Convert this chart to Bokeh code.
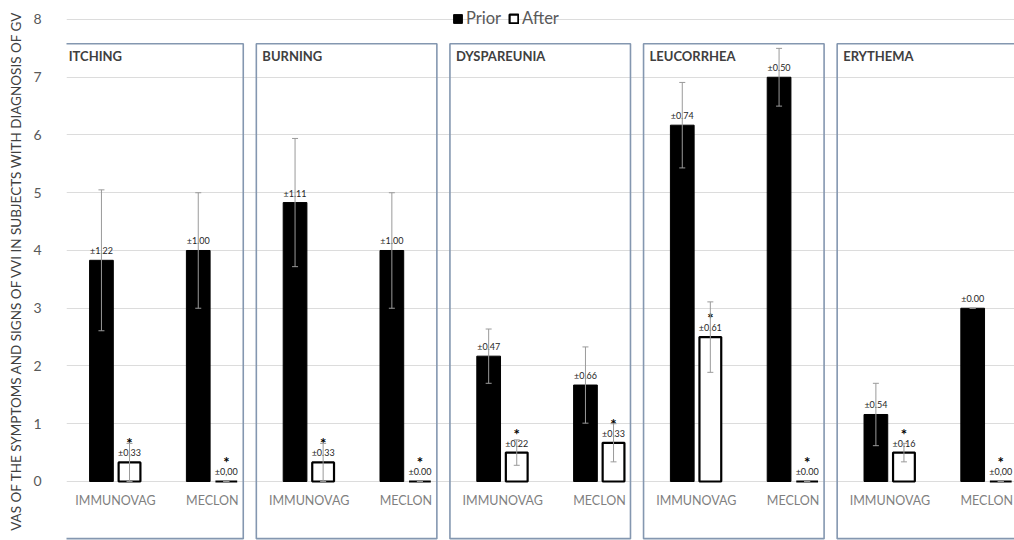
from bokeh.plotting import figure
from bokeh.models import (ColumnDataSource, Range1d, FixedTicker, Whisker, TeeHead,
                          Legend, LegendItem)
from bokeh.core.properties import value
from bokeh.embed import file_html
from bokeh.resources import INLINE

# ---------------- data ----------------
symptoms = ["ITCHING", "BURNING", "DYSPAREUNIA", "LEUCORRHEA", "ERYTHEMA"]
treatments = ["IMMUNOVAG", "MECLON"]

prior_mean = [3.83, 4.00, 4.83, 4.00, 2.17, 1.67, 6.17, 7.00, 1.16, 3.00]
prior_sd = [1.22, 1.00, 1.11, 1.00, 0.47, 0.66, 0.74, 0.50, 0.54, 0.00]
after_mean = [0.33, 0.00, 0.33, 0.00, 0.50, 0.67, 2.50, 0.00, 0.50, 0.00]
after_sd = [0.33, 0.00, 0.33, 0.00, 0.22, 0.33, 0.61, 0.00, 0.16, 0.00]
prior_labels = ["±1.22", "±1.00", "±1.11", "±1.00", "±0.47", "±0.66", "±0.74", "±0.50", "±0.54", "±0.00"]
after_labels = ["±0,33", "±0,00", "±0.33", "±0.00", "±0.22", "±0.33", "±0.61", "±0.00", "±0.16", "±0,00"]
y_ticks = [0, 1, 2, 3, 4, 5, 6, 7, 8]
y_title = "VAS OF THE SYMPTOMS AND SIGNS OF VVI IN SUBJECTS WITH DIAGNOSIS OF GV"

FONT = "Lato"
n = len(symptoms) * len(treatments)
idx = list(range(n))
cat_labels = [treatments[i % 2] for i in idx]

OFF = 0.145
BW = 0.245

src = ColumnDataSource(dict(
    xp=[i - OFF for i in idx], xa=[i + OFF for i in idx],
    pm=prior_mean, ps=prior_sd, am=after_mean, asd=after_sd,
    p_lo=[m - s for m, s in zip(prior_mean, prior_sd)],
    p_hi=[m + s for m, s in zip(prior_mean, prior_sd)],
    a_lo=[m - s for m, s in zip(after_mean, after_sd)],
    a_hi=[m + s for m, s in zip(after_mean, after_sd)],
    pl=prior_labels, al=after_labels, star=["*"] * n,
    xc=idx, yc=[-0.33] * n, cl=cat_labels,
))

p = figure(width=1014, height=540, output_backend="svg", toolbar_location=None,
           x_range=Range1d(-0.506, 9.287), y_range=Range1d(-1.022, 8.329),
           x_axis_location=None, min_border_left=66, min_border_right=0,
           min_border_top=0, min_border_bottom=0)
p.outline_line_color = None
p.xgrid.grid_line_color = None
p.ygrid.grid_line_color = "#dcdcdc"
p.ygrid.grid_line_width = 1
p.yaxis.ticker = FixedTicker(ticks=y_ticks)
p.yaxis.axis_line_color = None
p.yaxis.major_tick_line_color = None
p.yaxis.minor_tick_line_color = None
p.yaxis.major_label_text_font = FONT
p.yaxis.major_label_text_font_size = "14px"
p.yaxis.major_label_text_color = "#595959"
p.yaxis.major_label_standoff = 19
p.yaxis.axis_label = y_title
p.yaxis.axis_label_text_font = FONT
p.yaxis.axis_label_text_font_size = "13.5px"
p.yaxis.axis_label_text_font_style = "normal"
p.yaxis.axis_label_text_color = "#404040"
p.yaxis.axis_label_standoff = 6

# panel boxes
box_left = [2 * k - 0.545 for k in range(len(symptoms))]
box_right = [2 * k + 1.32 for k in range(len(symptoms))]
p.quad(left=box_left, right=box_right, top=[7.58] * len(symptoms),
       bottom=[-0.99] * len(symptoms), fill_alpha=0, line_color="#8497b0",
       line_width=1.6)
p.text(x=box_left, y=[7.36] * len(symptoms), text=symptoms, x_offset=6,
       text_font=value(FONT), text_font_size="13px", text_font_style="bold",
       text_color="#404040", text_baseline="middle", text_align="left")

# bars
r_prior = p.vbar(x="xp", top="pm", bottom=0, width=BW, source=src,
                 fill_color="black", line_color="black", line_width=1)
r_after = p.vbar(x="xa", top="am", bottom=0, width=BW - 0.02, source=src,
                 fill_color="white", line_color="black", line_width=2.2)

for base, lo, hi in (("xp", "p_lo", "p_hi"), ("xa", "a_lo", "a_hi")):
    w = Whisker(base=base, lower=lo, upper=hi, source=src, dimension="height",
                line_color="#9a9a9a", line_width=1, level="annotation",
                upper_head=TeeHead(size=6, line_color="#9a9a9a", line_width=1),
                lower_head=TeeHead(size=6, line_color="#9a9a9a", line_width=1))
    p.add_layout(w)

# data labels
p.text(x="xp", y="pm", text="pl", source=src, y_offset=-4,
       text_font=value(FONT), text_font_size="9px", text_color="#262626",
       text_align="center", text_baseline="bottom")
p.text(x="xa", y="am", text="al", source=src, y_offset=-4,
       text_font=value(FONT), text_font_size="9px", text_color="#262626",
       text_align="center", text_baseline="bottom")
p.text(x="xa", y="am", text="star", source=src, y_offset=-19,
       text_font=value(FONT), text_font_size="15px", text_font_style="bold",
       text_color="black", text_align="center", text_baseline="alphabetic")

# category labels
p.text(x="xc", y="yc", text="cl", source=src, text_font=value(FONT),
       text_font_size="12.5px", text_color="#7f7f7f", text_align="center",
       text_baseline="middle")

legend = Legend(items=[LegendItem(label="Prior", renderers=[r_prior]),
                       LegendItem(label="After", renderers=[r_after])],
                orientation="horizontal", location=(386, 512),
                background_fill_alpha=0, border_line_alpha=0, padding=0,
                margin=0, spacing=7, label_standoff=3, glyph_width=11,
                glyph_height=11, label_height=16,
                label_text_font=FONT, label_text_font_size="16.5px",
                label_text_color="#595959")
p.add_layout(legend, "center")

open("out.html", "w").write(file_html(p, INLINE))
